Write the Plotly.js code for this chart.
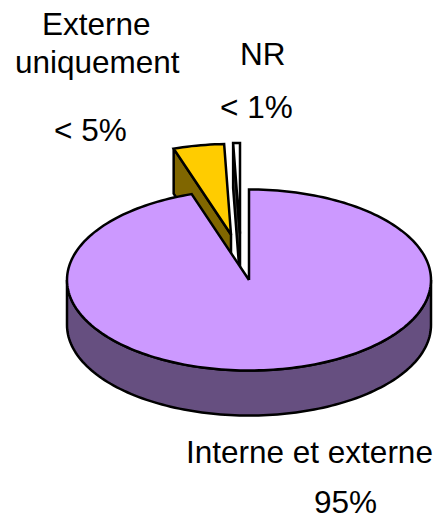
<!DOCTYPE html>
<html><head><meta charset="utf-8">
<script src="https://cdn.plot.ly/plotly-3.0.1.min.js"></script>
<style>html,body{margin:0;padding:0;background:#fff}#c{width:438px;height:521px}</style>
</head><body><div id="c"></div>
<script>
const categories = ["Interne et externe", "Externe uniquement", "NR"];
const values = [94.9, 4.5, 0.6];
const pctLabels = ["95%", "< 5%", "< 1%"];
const topColors = ["#CC99FF", "#FFCC00", "#FFFFFF"];
const sideColors = ["#664F80", "#806600", "#404040"];

const W = 438, H = 521, CX = 249, CY = 280, RX = 182, RY = 90.5, DEPTH = 45;
const offsets = [[0, 0], [-18, -45.5], [-9, -46.5]];
const total = values.reduce((a, b) => a + b, 0);

function pt(o, deg, z) {
  const r = deg * Math.PI / 180;
  return [CX + o[0] + RX * Math.sin(r), CY + o[1] - RY * Math.cos(r) + (z || 0)];
}
function arc(o, a0, a1, z) {
  const out = [], n = Math.max(2, Math.ceil(Math.abs(a1 - a0) / 1.5));
  for (let i = 0; i <= n; i++) out.push(pt(o, a0 + (a1 - a0) * i / n, z));
  return out;
}
function poly(points, fill) {
  const closed = points.concat([points[0]]);
  return {
    x: closed.map(p => p[0]), y: closed.map(p => p[1]),
    type: "scatter", mode: "lines", fill: "toself", fillcolor: fill,
    line: {color: "#000", width: 2.5, simplify: false}, hoverinfo: "skip", showlegend: false
  };
}

let start = 0;
const slices = values.map((v, i) => {
  const a0 = start, a1 = start + v / total * 360;
  start = a1;
  return {a0, a1, o: offsets[i], i};
});

const traces = [];
// exploded back slices first, then the main slice on top
[slices[1], slices[2]].forEach(s => {
  const apex = [CX + s.o[0], CY + s.o[1]];
  const apexLow = [apex[0], apex[1] + DEPTH];
  traces.push(poly([pt(s.o, s.a0), apex, apexLow, pt(s.o, s.a0, DEPTH)], sideColors[s.i]));
  traces.push(poly([apex].concat(arc(s.o, s.a0, s.a1)), topColors[s.i]));
});
const m = slices[0];
traces.push(poly(arc(m.o, 90, 270).concat(arc(m.o, 270, 90, DEPTH)), sideColors[0]));
traces.push(poly([[CX, CY]].concat(arc(m.o, m.a0, m.a1)), topColors[0]));

const font = {family: "Liberation Sans, Arial, sans-serif", size: 31.5, color: "#000"};
const ann = (text, x, y) => ({text, x, y, xref: "x", yref: "y", showarrow: false, font,
  xanchor: "center", yanchor: "middle", align: "center", borderpad: 0});

Plotly.newPlot("c", traces, {
  width: W, height: H, margin: {l: 0, r: 0, t: 0, b: 0},
  paper_bgcolor: "#fff", plot_bgcolor: "#fff", showlegend: false,
  xaxis: {range: [0, W], visible: false, fixedrange: true},
  yaxis: {range: [H, 0], visible: false, fixedrange: true},
  annotations: [
    ann("Externe", 96.5, 24),
    ann("uniquement", 97, 62),
    ann(pctLabels[1], 90.5, 129.5),
    ann(categories[2], 263, 53.5),
    ann(pctLabels[2], 256.5, 107),
    ann(categories[0], 309.5, 452),
    ann(pctLabels[0], 345.5, 502)
  ]
}, {displayModeBar: false, staticPlot: true});
</script></body></html>
